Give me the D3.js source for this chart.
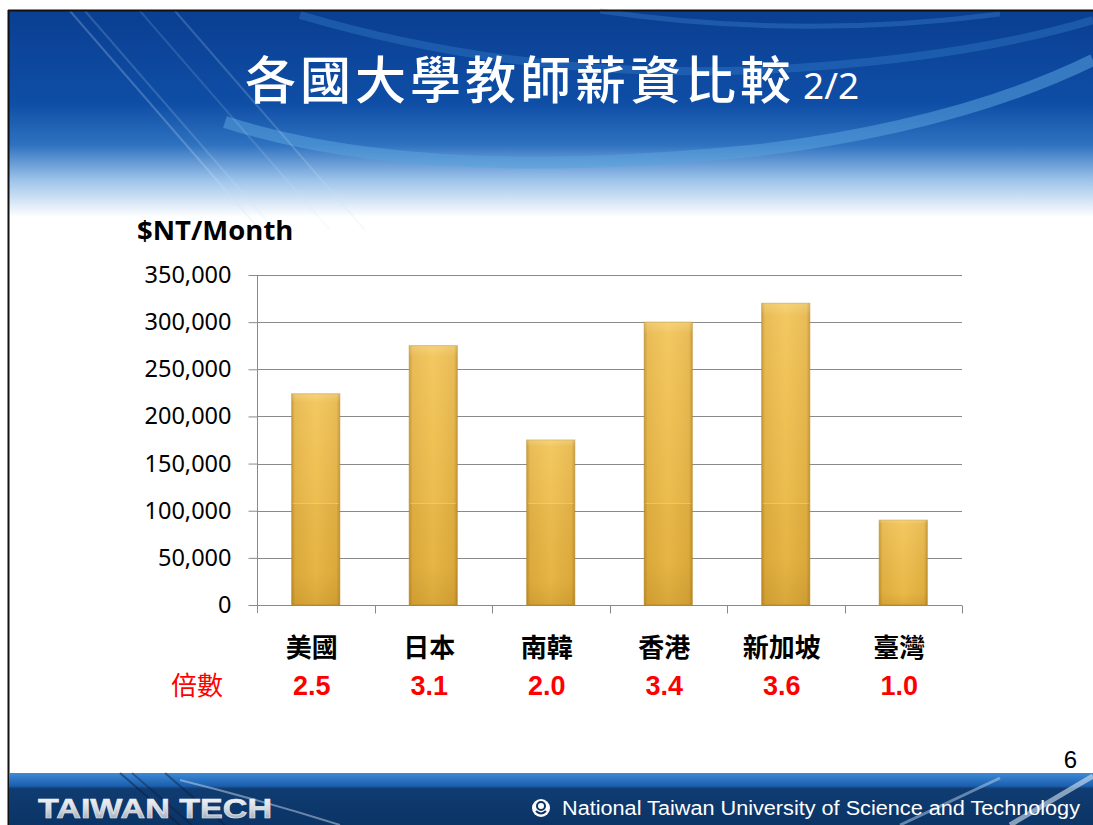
<!DOCTYPE html>
<html>
<head>
<meta charset="utf-8">
<script src="https://cdn.jsdelivr.net/npm/d3@7"></script>
<style>
  html, body { margin: 0; padding: 0; background: #fff; }
  svg { display: block; }
</style>
</head>
<body>
<div id="chart"></div>
<script>
// Faculty salary comparison (NT$ per month) - slide 6
const countries = ["美國", "日本", "南韓", "香港", "新加坡", "臺灣"];
const salaries = [224000, 275000, 175000, 300000, 320000, 90000];
const ratios = ["2.5", "3.1", "2.0", "3.4", "3.6", "1.0"];
const yTicks = [0, 50000, 100000, 150000, 200000, 250000, 300000, 350000];

const width = 1093;
const height = 825;
const cjk = "'Noto Sans CJK TC', 'Noto Sans CJK SC', sans-serif";

const svg = d3.select("#chart")
    .append("svg")
    .attr("width", width)
    .attr("height", height);

const defs = svg.append("defs");

// header gradient
const hg = defs.append("linearGradient").attr("id", "hdr")
    .attr("x1", 0).attr("y1", 0).attr("x2", 0).attr("y2", 1);
hg.append("stop").attr("offset", "0%").attr("stop-color", "#0a3f92");
hg.append("stop").attr("offset", "45%").attr("stop-color", "#0f4ea6");
hg.append("stop").attr("offset", "65%").attr("stop-color", "#2f72c0");
hg.append("stop").attr("offset", "82%").attr("stop-color", "#9cc3ea");
hg.append("stop").attr("offset", "100%").attr("stop-color", "#ffffff");

// footer gradient
const fg = defs.append("linearGradient").attr("id", "ftr")
    .attr("x1", 0).attr("y1", 0).attr("x2", 0).attr("y2", 1);
fg.append("stop").attr("offset", "0%").attr("stop-color", "#3c8ad6");
fg.append("stop").attr("offset", "25%").attr("stop-color", "#1b5fae");
fg.append("stop").attr("offset", "30%").attr("stop-color", "#0f3c72");
fg.append("stop").attr("offset", "100%").attr("stop-color", "#0b3466");

// silver logo text
const sg = defs.append("linearGradient").attr("id", "silver")
    .attr("x1", 0).attr("y1", 0).attr("x2", 0).attr("y2", 1);
sg.append("stop").attr("offset", "0%").attr("stop-color", "#ffffff");
sg.append("stop").attr("offset", "50%").attr("stop-color", "#d6dbe2");
sg.append("stop").attr("offset", "100%").attr("stop-color", "#8d96a3");

// bar gradients
const barH = defs.append("linearGradient").attr("id", "barH")
    .attr("x1", 0).attr("y1", 0).attr("x2", 1).attr("y2", 0);
[["0%", "#c3922b"], ["7%", "#e6b444"], ["50%", "#f2c24f"], ["93%", "#e6b444"], ["100%", "#c3922b"]]
    .forEach(([o, c]) => barH.append("stop").attr("offset", o).attr("stop-color", c));
const barV = defs.append("linearGradient").attr("id", "barV")
    .attr("x1", 0).attr("y1", 0).attr("x2", 0).attr("y2", 1);
barV.append("stop").attr("offset", "0%").attr("stop-color", "#fff3c0").attr("stop-opacity", 0.35);
barV.append("stop").attr("offset", "4%").attr("stop-color", "#ffffff").attr("stop-opacity", 0.1);
barV.append("stop").attr("offset", "85%").attr("stop-color", "#8a5a00").attr("stop-opacity", 0.08);
barV.append("stop").attr("offset", "100%").attr("stop-color", "#8a5a00").attr("stop-opacity", 0.22);

// ===== slide background =====
svg.append("rect").attr("width", width).attr("height", height).attr("fill", "#fff");
svg.append("rect").attr("x", 9).attr("y", 11).attr("width", width - 9).attr("height", 206)
    .attr("fill", "url(#hdr)");

const deco = svg.append("g").attr("fill", "none");
// big swoosh arcs
deco.append("path")
    .attr("d", "M225,122 Q420,185 760,150 Q960,125 1093,60")
    .attr("stroke", "#5aa2dd").attr("stroke-opacity", 0.55).attr("stroke-width", 12);
deco.append("path")
    .attr("d", "M300,15 Q520,80 760,70 Q960,60 1093,20")
    .attr("stroke", "#3c86d0").attr("stroke-opacity", 0.35).attr("stroke-width", 8);
deco.append("path")
    .attr("d", "M600,11 Q800,40 1000,14")
    .attr("stroke", "#4d95da").attr("stroke-opacity", 0.3).attr("stroke-width", 5);
// diagonal streaks
[[70, 0.25], [85, 0.18], [140, 0.15], [175, 0.2]].forEach(([x, o]) => {
    deco.append("line")
        .attr("x1", x).attr("y1", 11).attr("x2", x + 190).attr("y2", 230)
        .attr("stroke", "#cfe4f7").attr("stroke-opacity", o).attr("stroke-width", 2);
});

// slide frame
svg.append("line").attr("x1", 8).attr("y1", 10.5).attr("x2", width).attr("y2", 10.5)
    .attr("stroke", "#111").attr("stroke-width", 2);
svg.append("line").attr("x1", 8.5).attr("y1", 10).attr("x2", 8.5).attr("y2", height)
    .attr("stroke", "#111").attr("stroke-width", 2);

// title
const title = svg.append("text")
    .attr("x", 245).attr("y", 99)
    .attr("fill", "#fff")
    .style("font-family", cjk)
    .style("font-weight", "500")
    .style("font-size", "51px")
    .style("letter-spacing", "4px");
title.append("tspan").text("各國大學教師薪資比較");
title.append("tspan")
    .attr("dx", 8)
    .style("font-family", "'Noto Sans', sans-serif")
    .style("font-weight", "normal")
    .style("font-size", "37px")
    .style("letter-spacing", "0px")
    .text("2/2");

// footer
svg.append("rect").attr("x", 9).attr("y", 773).attr("width", width - 9).attr("height", 52)
    .attr("fill", "url(#ftr)");
const fdeco = svg.append("g").attr("fill", "none");
[[120, 0.5], [132, 0.4], [165, 0.45]].forEach(([x, o]) => {
    fdeco.append("line").attr("x1", x).attr("y1", 773).attr("x2", x + 60).attr("y2", 825)
        .attr("stroke", "#0a1f3c").attr("stroke-opacity", o).attr("stroke-width", 2);
});
fdeco.append("path").attr("d", "M180,780 Q260,800 340,825")
    .attr("stroke", "#c8d8ea").attr("stroke-opacity", 0.5).attr("stroke-width", 2);
fdeco.append("line").attr("x1", 900).attr("y1", 825).attr("x2", 1000).attr("y2", 778)
    .attr("stroke", "#b9d4ef").attr("stroke-opacity", 0.5).attr("stroke-width", 3);
fdeco.append("line").attr("x1", 1010).attr("y1", 825).attr("x2", 1093).attr("y2", 776)
    .attr("stroke", "#d8e6f4").attr("stroke-opacity", 0.6).attr("stroke-width", 5);

svg.append("text")
    .attr("x", 38).attr("y", 818)
    .attr("textLength", 234)
    .attr("lengthAdjust", "spacingAndGlyphs")
    .attr("fill", "url(#silver)")
    .attr("stroke", "#e8ecf0")
    .attr("stroke-width", 0.6)
    .style("font-family", "'Liberation Sans', Arial, sans-serif")
    .style("font-weight", "bold")
    .style("font-size", "28px")
    .text("TAIWAN TECH");

const logo = svg.append("g").attr("transform", "translate(541,808)");
logo.append("circle").attr("r", 9).attr("fill", "#fff");
logo.append("circle").attr("cy", -2).attr("r", 4).attr("fill", "none")
    .attr("stroke", "#0b3466").attr("stroke-width", 2);
logo.append("path").attr("d", "M-5,3 Q0,8 5,3").attr("fill", "none")
    .attr("stroke", "#0b3466").attr("stroke-width", 2);

svg.append("text")
    .attr("x", 562).attr("y", 815)
    .attr("textLength", 518)
    .attr("lengthAdjust", "spacingAndGlyphs")
    .attr("fill", "#fff")
    .style("font-family", "'Liberation Sans', Arial, sans-serif")
    .style("font-size", "20px")
    .text("National Taiwan University of Science and Technology");

svg.append("text")
    .attr("x", 1077).attr("y", 768)
    .attr("text-anchor", "end")
    .attr("fill", "#000")
    .style("font-family", "'Liberation Sans Narrow', 'Liberation Sans', sans-serif")
    .style("font-size", "24px")
    .text("6");

// ===== chart =====
const plot = { left: 257, right: 962, top: 275, bottom: 605 };

const x = d3.scaleBand()
    .domain(countries)
    .range([plot.left, plot.right])
    .paddingInner(0.59)
    .paddingOuter(0.295);

const xCat = d3.scaleBand()
    .domain(countries)
    .range([plot.left, plot.right])
    .padding(0);

const y = d3.scaleLinear()
    .domain([0, 350000])
    .range([plot.bottom, plot.top]);

const chart = svg.append("g");

// gridlines
chart.append("g")
    .selectAll("line")
    .data(yTicks.filter(d => d > 0))
    .join("line")
    .attr("x1", plot.left).attr("x2", plot.right)
    .attr("y1", d => Math.round(y(d)) + 0.5).attr("y2", d => Math.round(y(d)) + 0.5)
    .attr("stroke", "#8a8a8a").attr("stroke-width", 1);

// y axis
const yAxis = chart.append("g")
    .attr("transform", `translate(${plot.left + 0.5},0)`)
    .call(d3.axisLeft(y).tickValues(yTicks).tickFormat(d3.format(",")).tickSize(9).tickPadding(17));
yAxis.select(".domain").attr("stroke", "#8a8a8a").attr("d", `M0,${plot.top}V${plot.bottom + 8}`);
yAxis.selectAll(".tick line").attr("stroke", "#8a8a8a");
yAxis.selectAll(".tick text")
    .attr("fill", "#000")
    .style("font-family", "'Noto Sans', 'Open Sans', sans-serif")
    .style("font-size", "23.5px");

// x axis
const xAxis = chart.append("g")
    .attr("transform", `translate(0,${plot.bottom + 0.5})`);
xAxis.append("line")
    .attr("x1", plot.left).attr("x2", plot.right)
    .attr("stroke", "#8a8a8a").attr("stroke-width", 1);
xAxis.selectAll(".cat-tick")
    .data(countries.slice(1).map(c => xCat(c)).concat([plot.right]))
    .join("line")
    .attr("class", "cat-tick")
    .attr("x1", d => Math.round(d) + 0.5).attr("x2", d => Math.round(d) + 0.5)
    .attr("y1", 0).attr("y2", 8)
    .attr("stroke", "#8a8a8a");

// bars
const barG = chart.append("g");
const bar = barG.selectAll("g")
    .data(countries.map((c, i) => ({ country: c, value: salaries[i] })))
    .join("g");
bar.append("rect")
    .attr("x", d => x(d.country))
    .attr("y", d => y(d.value))
    .attr("width", x.bandwidth())
    .attr("height", d => y(0) - y(d.value))
    .attr("fill", "url(#barH)")
    .attr("stroke", "#b68624")
    .attr("stroke-opacity", 0.55)
    .attr("stroke-width", 1);
bar.append("rect")
    .attr("x", d => x(d.country))
    .attr("y", d => y(d.value))
    .attr("width", x.bandwidth())
    .attr("height", d => y(0) - y(d.value))
    .attr("fill", "url(#barV)");
// faint seam in the bar texture
bar.filter(d => d.value > 110000).append("rect")
    .attr("x", d => x(d.country) + 1)
    .attr("y", y(108000))
    .attr("width", x.bandwidth() - 2)
    .attr("height", y(0) - y(108000))
    .attr("fill", "#9a6400")
    .attr("fill-opacity", 0.05);
bar.filter(d => d.value > 110000).append("line")
    .attr("x1", d => x(d.country) + 1)
    .attr("x2", d => x(d.country) + x.bandwidth() - 1)
    .attr("y1", Math.round(y(108000)) + 0.5)
    .attr("y2", Math.round(y(108000)) + 0.5)
    .attr("stroke", "#fbe3a0").attr("stroke-opacity", 0.4);

// axis title
svg.append("text")
    .attr("x", 137).attr("y", 240)
    .attr("fill", "#000")
    .style("font-family", "'Open Sans', 'Noto Sans', sans-serif")
    .style("font-weight", "bold")
    .style("font-size", "27.5px")
    .text("$NT/Month");

// category labels
chart.append("g")
    .selectAll("text")
    .data(countries)
    .join("text")
    .attr("x", d => x(d) + x.bandwidth() / 2 - 4)
    .attr("y", 657)
    .attr("text-anchor", "middle")
    .attr("fill", "#000")
    .style("font-family", cjk)
    .style("font-weight", "bold")
    .style("font-size", "26px")
    .text(d => d);

// ratio row
svg.append("text")
    .attr("x", 197).attr("y", 695)
    .attr("text-anchor", "middle")
    .attr("fill", "#ff0000")
    .style("font-family", cjk)
    .style("font-size", "26px")
    .text("倍數");

chart.append("g")
    .selectAll("text")
    .data(countries.map((c, i) => ({ country: c, r: ratios[i] })))
    .join("text")
    .attr("x", d => x(d.country) + x.bandwidth() / 2 - 4)
    .attr("y", 695)
    .attr("text-anchor", "middle")
    .attr("fill", "#ff0000")
    .style("font-family", "'Liberation Sans', Arial, sans-serif")
    .style("font-weight", "bold")
    .style("font-size", "27px")
    .text(d => d.r);
</script>
</body>
</html>
